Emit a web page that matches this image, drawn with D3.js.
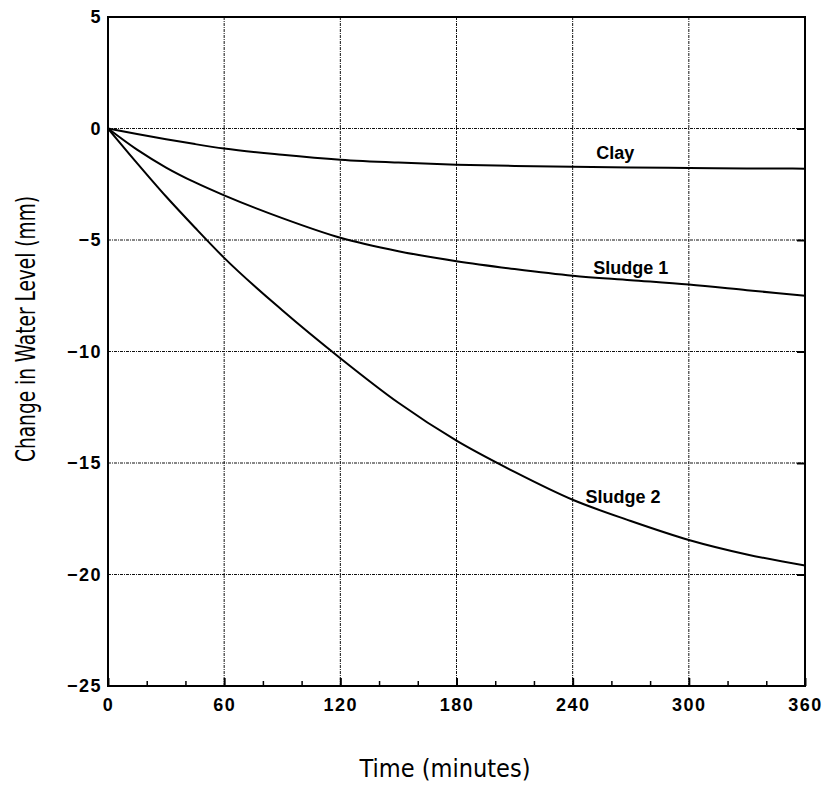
<!DOCTYPE html>
<html>
<head>
<meta charset="utf-8">
<script src="https://cdn.jsdelivr.net/npm/d3@7"></script>
<style>
  body { margin: 0; background: #fff; }
  svg { display: block; }
</style>
</head>
<body>
<svg id="chart" width="825" height="787"></svg>
<script>
// minutes sampled along the curves
const time    = [0, 15, 30, 45, 60, 90, 120, 150, 180, 210, 240, 270, 300, 330, 360]
const clay    = [0, -0.25, -0.48, -0.7, -0.9, -1.18, -1.4, -1.53, -1.62, -1.68, -1.72, -1.75, -1.77, -1.79, -1.8]
const sludge1 = [0, -0.95, -1.75, -2.42, -3.0, -4.02, -4.9, -5.5, -5.95, -6.3, -6.6, -6.8, -7.0, -7.25, -7.5]
const sludge2 = [0, -1.55, -3.05, -4.45, -5.8, -8.15, -10.3, -12.3, -14.0, -15.4, -16.65, -17.6, -18.45, -19.1, -19.6]

const xTicks = [0, 60, 120, 180, 240, 300, 360]
const xMinor = d3.range(0, 361, 20)
const yTicks = [5, 0, -5, -10, -15, -20, -25]

const series = [
    { name: 'Clay',     values: clay,    at: [262, -1.37] },
    { name: 'Sludge 1', values: sludge1, at: [270, -6.52] },
    { name: 'Sludge 2', values: sludge2, at: [266, -16.8] }
]

const svg = d3.select('#chart')

const x = d3.scaleLinear().domain([0, 360]).range([108, 805])
const y = d3.scaleLinear().domain([-25, 5]).range([686, 17])

// grid
const grid = svg.append('g')
    .attr('stroke', '#111')
    .attr('stroke-width', 1)
    .attr('stroke-dasharray', '3,1,1,1')

grid.selectAll('line.v').data(xTicks.slice(1, -1))
    .enter().append('line')
    .attr('class', 'v')
    .attr('x1', d => x(d)).attr('x2', d => x(d))
    .attr('y1', y(5)).attr('y2', y(-25))

grid.selectAll('line.h').data(yTicks.slice(1, -1))
    .enter().append('line')
    .attr('class', 'h')
    .attr('x1', x(0)).attr('x2', x(360))
    .attr('y1', d => y(d)).attr('y2', d => y(d))

// axes
const axisFont = g => g
    .call(g => g.select('.domain').remove())
    .call(g => g.selectAll('text')
        .attr('font-family', '"Liberation Sans", Arial, sans-serif')
        .attr('font-weight', 'bold')
        .attr('font-size', 18)
        .attr('letter-spacing', 1.5)
        .attr('fill', '#000'))

svg.append('g')
    .attr('transform', `translate(0,${y(-25)})`)
    .call(d3.axisBottom(x).tickValues(xTicks).tickSize(-8).tickPadding(12).tickFormat(d3.format('d')))
    .call(axisFont)
    .call(g => g.selectAll('line').attr('stroke', '#000').attr('stroke-width', 2))

svg.append('g')
    .attr('transform', `translate(0,${y(-25)})`)
    .call(d3.axisBottom(x).tickValues(xMinor.filter(d => d % 60)).tickSize(-5).tickFormat(''))
    .call(g => g.select('.domain').remove())
    .call(g => g.selectAll('line').attr('stroke', '#000').attr('stroke-width', 1.5))

svg.append('g')
    .attr('transform', `translate(${x(0)},0)`)
    .call(d3.axisLeft(y).tickValues(yTicks).tickSize(0).tickPadding(6)
        .tickFormat(d => d < 0 ? '\u2212' + Math.abs(d) : d))
    .call(axisFont)

svg.append('g')
    .attr('transform', `translate(${x(360)},0)`)
    .call(d3.axisRight(y).tickValues(yTicks.slice(1, -1)).tickSize(-8).tickFormat(''))
    .call(g => g.select('.domain').remove())
    .call(g => g.selectAll('line').attr('stroke', '#000').attr('stroke-width', 2))

// frame
svg.append('rect')
    .attr('x', x(0)).attr('y', y(5))
    .attr('width', x(360) - x(0)).attr('height', y(-25) - y(5))
    .attr('fill', 'none')
    .attr('stroke', '#000')
    .attr('stroke-width', 2)

// curves
const line = d3.line()
    .x((d, i) => x(time[i]))
    .y(d => y(d))
    .curve(d3.curveMonotoneX)

svg.selectAll('path.curve').data(series)
    .enter().append('path')
    .attr('class', 'curve')
    .attr('d', d => line(d.values))
    .attr('fill', 'none')
    .attr('stroke', '#000')
    .attr('stroke-width', 2)

svg.selectAll('text.lbl').data(series)
    .enter().append('text')
    .attr('class', 'lbl')
    .attr('x', d => x(d.at[0]))
    .attr('y', d => y(d.at[1]))
    .attr('text-anchor', 'middle')
    .attr('font-family', '"Liberation Sans", Arial, sans-serif')
    .attr('font-weight', 'bold')
    .attr('font-size', 18)
    .text(d => d.name)

// axis titles
svg.append('text')
    .attr('x', 445)
    .attr('y', 777)
    .attr('text-anchor', 'middle')
    .attr('font-family', '"DejaVu Sans Condensed", "DejaVu Sans", sans-serif')
    .attr('font-size', 24)
    .attr('textLength', 171)
    .attr('lengthAdjust', 'spacingAndGlyphs')
    .text('Time (minutes)')

svg.append('text')
    .attr('transform', 'translate(35,329) rotate(-90)')
    .attr('text-anchor', 'middle')
    .attr('font-family', '"DejaVu Sans Condensed", "DejaVu Sans", sans-serif')
    .attr('font-size', 27)
    .attr('textLength', 266)
    .attr('lengthAdjust', 'spacingAndGlyphs')
    .text('Change in Water Level (mm)')
</script>
</body>
</html>
